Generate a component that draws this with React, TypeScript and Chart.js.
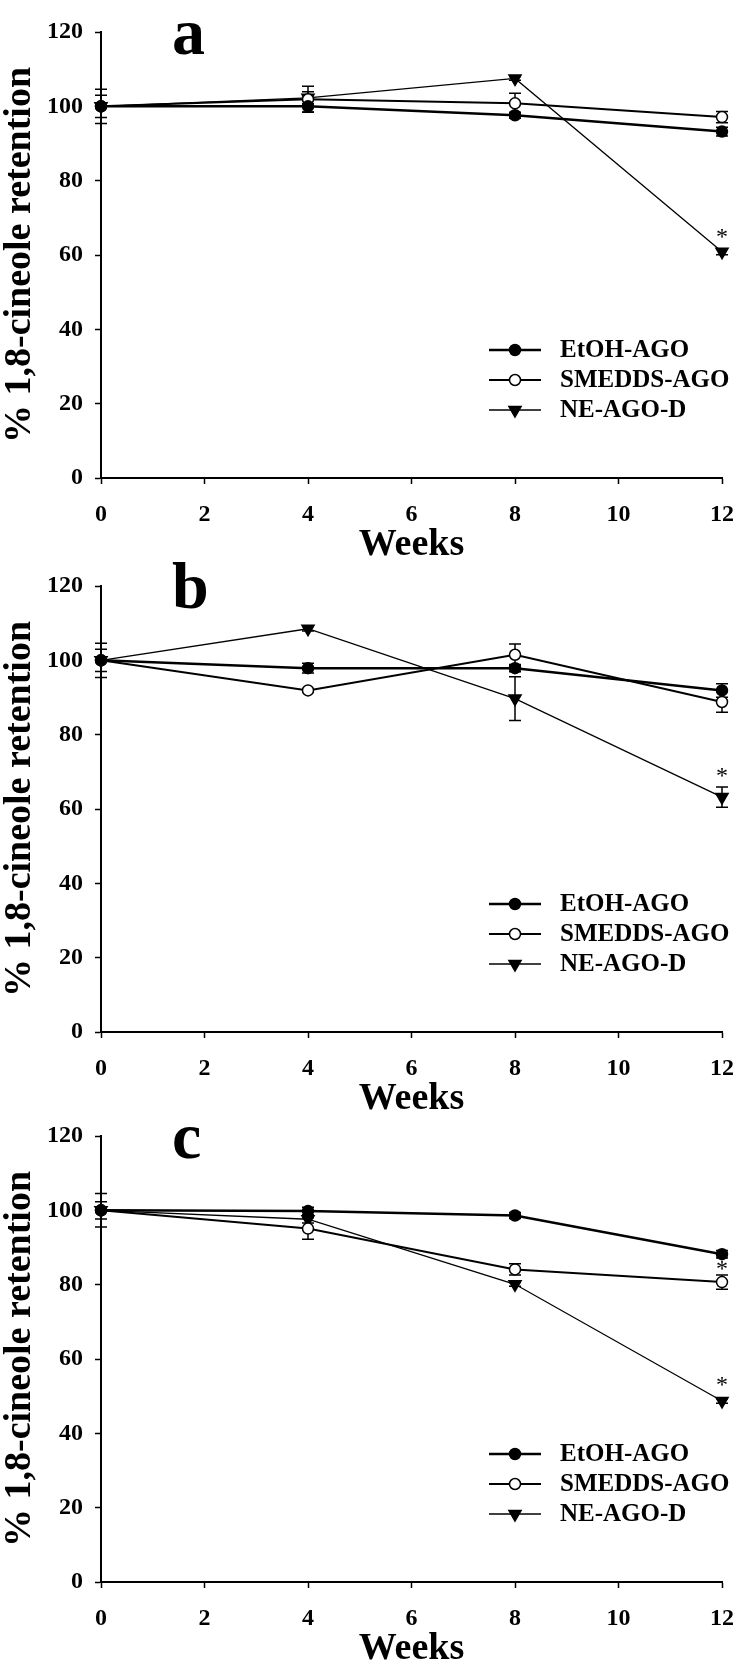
import React, { useEffect, useRef } from "react";
import { Chart, registerables } from "chart.js";

Chart.register(...registerables);

// ---------------- data ----------------
const weeks = [0, 4, 8, 12];
const seriesNames = ["EtOH-AGO", "SMEDDS-AGO", "NE-AGO-D"];
const xTickValues = [0, 2, 4, 6, 8, 10, 12];
const yTickValues = [0, 20, 40, 60, 80, 100, 120];
const xAxisTitle = "Weeks";
const yAxisTitle = "% 1,8-cineole retention";
const panelLetters = ["a", "b", "c"];

// panel a
const aEtOH = [100, 100.0, 97.6, 93.2];
const aEtOHErr = [0.5, 1.5, 0.8, 1.2];
const aSMEDDS = [100, 101.9, 100.8, 97.1];
const aSMEDDSErr = [3.0, 3.5, 2.7, 1.5];
const aNE = [100, 102.3, 107.5, 60.9];
const aNEErr = [4.6, 1.6, 0.5, 0.8];
const aStars = [66.2];

// panel b
const bEtOH = [100, 97.9, 97.9, 91.9];
const bEtOHErr = [0.5, 1.3, 1.0, 1.8];
const bSMEDDS = [100, 91.9, 101.5, 88.8];
const bSMEDDSErr = [3.0, 0.5, 2.9, 2.8];
const bNE = [100, 108.5, 89.7, 63.2];
const bNEErr = [4.6, 0.6, 5.9, 2.7];
const bStars = [70.2];

// panel c
const cEtOH = [100, 99.8, 98.6, 88.2];
const cEtOHErr = [0.5, 1.0, 0.8, 1.0];
const cSMEDDS = [100, 95.1, 84.1, 80.7];
const cSMEDDSErr = [2.3, 2.9, 1.5, 1.9];
const cNE = [100, 97.6, 80.1, 48.7];
const cNEErr = [4.5, 1.0, 0.5, 0.6];
const cStars = [85.5, 54.3];

// ---------------- styles ----------------
const FONT = "'Liberation Serif', 'Times New Roman', serif";
const seriesStyles = [
  { pointStyle: "circle", fill: "#000", lineWidth: 2.5, radius: 5.5, rotation: 0 },
  { pointStyle: "circle", fill: "#fff", lineWidth: 2.0, radius: 5.5, rotation: 0 },
  { pointStyle: "triangle", fill: "#000", lineWidth: 1.3, radius: 7, rotation: 180 },
];

const CANVAS_W = 756;
const CANVAS_H = 575;

const errorBarPlugin = {
  id: "errorBars",
  beforeDatasetsDraw(chart: any, _args: any, opts: any) {
    const { ctx, scales } = chart;
    const xs = scales.x;
    const ys = scales.y;
    const errs: number[][] = opts.errors || [];
    ctx.save();
    ctx.strokeStyle = "#000";
    ctx.lineWidth = 1.5;
    chart.data.datasets.forEach((ds: any, i: number) => {
      ds.data.forEach((p: any, j: number) => {
        const e = errs[i] ? errs[i][j] : 0;
        if (!e) return;
        const px = xs.getPixelForValue(p.x);
        const y1 = ys.getPixelForValue(p.y + e);
        const y2 = ys.getPixelForValue(p.y - e);
        ctx.beginPath();
        ctx.moveTo(px, y1);
        ctx.lineTo(px, y2);
        ctx.moveTo(px - 6, y1);
        ctx.lineTo(px + 6, y1);
        ctx.moveTo(px - 6, y2);
        ctx.lineTo(px + 6, y2);
        ctx.stroke();
      });
    });
    ctx.restore();
  },
};

function drawMarker(ctx: CanvasRenderingContext2D, st: any, x: number, y: number) {
  ctx.save();
  ctx.fillStyle = st.fill;
  ctx.strokeStyle = "#000";
  ctx.lineWidth = 1.5;
  ctx.beginPath();
  if (st.pointStyle === "circle") {
    ctx.arc(x, y, st.radius, 0, Math.PI * 2);
  } else {
    const r = st.radius;
    ctx.moveTo(x, y + r);
    ctx.lineTo(x - (Math.sqrt(3) / 2) * r, y - r / 2);
    ctx.lineTo(x + (Math.sqrt(3) / 2) * r, y - r / 2);
    ctx.closePath();
  }
  ctx.fill();
  ctx.stroke();
  ctx.restore();
}

const annotationPlugin = {
  id: "annotations",
  afterDraw(chart: any, _args: any, opts: any) {
    const { ctx, chartArea, scales } = chart;
    ctx.save();
    // panel letter
    ctx.fillStyle = "#000";
    ctx.font = `bold 66px ${FONT}`;
    ctx.textAlign = "left";
    ctx.textBaseline = "alphabetic";
    ctx.fillText(opts.letter, chartArea.left + 71, chartArea.top + 22);

    // asterisks
    ctx.font = `24px ${FONT}`;
    ctx.textAlign = "center";
    (opts.stars || []).forEach((v: number) => {
      const px = scales.x.getPixelForValue(weeks[weeks.length - 1]);
      const py = scales.y.getPixelForValue(v);
      ctx.fillText("*", px, py + 12);
    });

    // legend
    const x0 = chartArea.left + 388;
    const x1 = chartArea.left + 440;
    const xm = (x0 + x1) / 2;
    ctx.font = `bold 25px ${FONT}`;
    ctx.textAlign = "left";
    ctx.textBaseline = "middle";
    chart.data.datasets.forEach((ds: any, i: number) => {
      const st = seriesStyles[i];
      const yy = chartArea.top + 318 + i * 30;
      ctx.strokeStyle = "#000";
      ctx.lineWidth = st.lineWidth;
      ctx.beginPath();
      ctx.moveTo(x0, yy);
      ctx.lineTo(x1, yy);
      ctx.stroke();
      drawMarker(ctx, st, xm, yy);
      ctx.fillStyle = "#000";
      ctx.fillText(ds.label, chartArea.left + 459, yy + 1);
    });
    ctx.restore();
  },
};

function Panel(props: { letter: string; series: number[][]; errors: number[][]; stars: number[]; top: number }) {
  const ref = useRef<HTMLCanvasElement | null>(null);
  useEffect(() => {
    const canvas = ref.current;
    if (!canvas) return;
    const datasets = props.series.map((vals, i) => {
      const st = seriesStyles[i];
      return {
        label: seriesNames[i],
        data: weeks.map((w, j) => ({ x: w, y: vals[j] })),
        borderColor: "#000",
        borderWidth: st.lineWidth,
        pointStyle: st.pointStyle,
        pointRadius: st.radius,
        pointRotation: st.rotation,
        pointBackgroundColor: st.fill,
        pointBorderColor: "#000",
        pointBorderWidth: 1.5,
        tension: 0,
        fill: false,
        clip: false,
      };
    });
    const chart = new Chart(canvas, {
      type: "line",
      data: { datasets } as any,
      options: {
        animation: false,
        responsive: false,
        devicePixelRatio: 1,
        events: [],
        layout: { padding: { left: 0, right: 34, top: 32, bottom: 0 } },
        plugins: {
          legend: { display: false },
          tooltip: { enabled: false },
          errorBars: { errors: props.errors },
          annotations: { letter: props.letter, stars: props.stars },
        } as any,
        scales: {
          x: {
            type: "linear",
            min: 0,
            max: 12,
            afterBuildTicks: (scale: any) => {
              scale.ticks = xTickValues.map((v) => ({ value: v }));
            },
            afterFit: (scale: any) => {
              scale.height = CANVAS_H - 478;
            },
            grid: {
              display: true,
              drawOnChartArea: false,
              drawTicks: true,
              tickLength: 6,
              tickColor: "#000",
              tickWidth: 1.5,
            },
            border: { display: true, color: "#000", width: 2 },
            ticks: {
              color: "#000",
              font: { family: FONT, size: 24, weight: "bold" },
              padding: 16,
              maxRotation: 0,
              autoSkip: false,
            },
            title: {
              display: true,
              text: xAxisTitle,
              color: "#000",
              font: { family: FONT, size: 38, weight: "bold", lineHeight: 1 },
              padding: { top: 0, bottom: 11 },
            },
          },
          y: {
            type: "linear",
            min: 0,
            max: 120,
            afterBuildTicks: (scale: any) => {
              scale.ticks = yTickValues.map((v) => ({ value: v }));
            },
            afterFit: (scale: any) => {
              scale.width = 101;
            },
            grid: {
              display: true,
              drawOnChartArea: false,
              drawTicks: true,
              tickLength: 6,
              tickColor: "#000",
              tickWidth: 1.5,
            },
            border: { display: true, color: "#000", width: 2 },
            ticks: {
              color: "#000",
              font: { family: FONT, size: 24, weight: "bold" },
              padding: 12,
            },
            title: {
              display: true,
              text: yAxisTitle,
              color: "#000",
              font: { family: FONT, size: 38, weight: "bold", lineHeight: 1 },
              padding: { top: 1, bottom: 0 },
            },
          },
        },
      } as any,
      plugins: [errorBarPlugin, annotationPlugin],
    });
    return () => chart.destroy();
  }, []);
  return (
    <canvas
      ref={ref}
      width={CANVAS_W}
      height={CANVAS_H}
      style={{ position: "absolute", left: 0, top: props.top, width: CANVAS_W, height: CANVAS_H, display: "block" }}
    />
  );
}

export default function App() {
  return (
    <div style={{ position: "absolute", left: 0, top: 0, width: 756, height: 1679, background: "#fff", overflow: "hidden" }}>
      <Panel
        letter={panelLetters[0]}
        series={[aEtOH, aSMEDDS, aNE]}
        errors={[aEtOHErr, aSMEDDSErr, aNEErr]}
        stars={aStars}
        top={0}
      />
      <Panel
        letter={panelLetters[1]}
        series={[bEtOH, bSMEDDS, bNE]}
        errors={[bEtOHErr, bSMEDDSErr, bNEErr]}
        stars={bStars}
        top={554}
      />
      <Panel
        letter={panelLetters[2]}
        series={[cEtOH, cSMEDDS, cNE]}
        errors={[cEtOHErr, cSMEDDSErr, cNEErr]}
        stars={cStars}
        top={1104}
      />
    </div>
  );
}
